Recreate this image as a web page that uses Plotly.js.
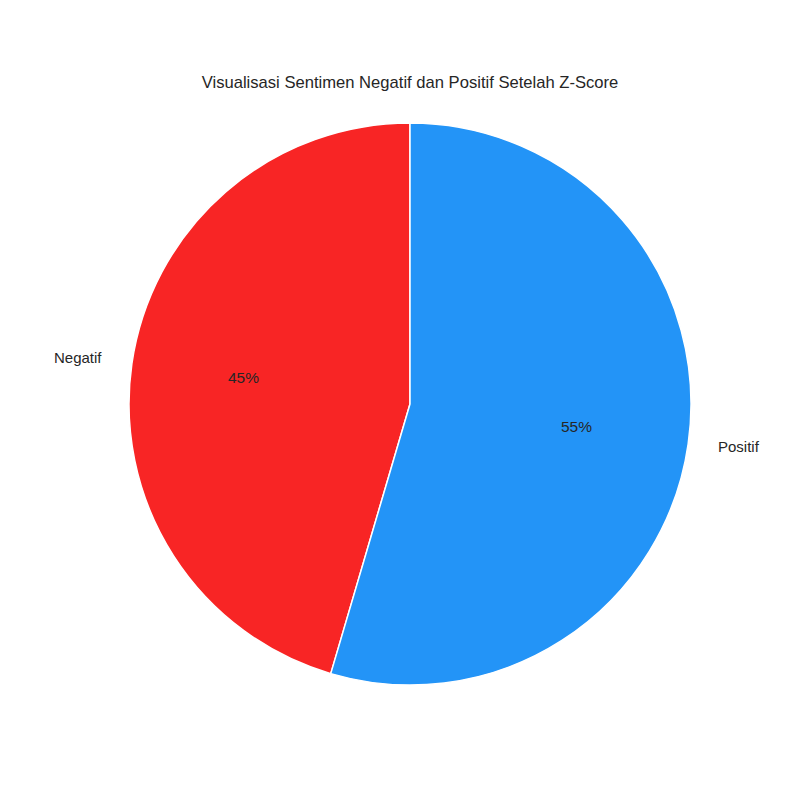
<!DOCTYPE html>
<html>
<head>
<meta charset="utf-8">
<script src="https://cdn.plot.ly/plotly-3.0.1.min.js"></script>
<style>html,body{margin:0;padding:0;background:#fff;}</style>
</head>
<body>
<div id="chart" style="width:800px;height:800px;"></div>
<script>
const labels = ["Negatif", "Positif"];
const values = [45.45, 54.55];
const colors = ["#F82525", "#2394F7"];
const chartTitle = "Visualisasi Sentimen Negatif dan Positif Setelah Z-Score";

const FONT = "Liberation Sans, Arial, sans-serif";
const TXT = "#262626";

const total = values.reduce((a, b) => a + b, 0);
const annotations = [];
let cum = 0;
values.forEach((v, i) => {
  const f = v / total;
  const theta = 2 * Math.PI * (cum + f / 2);
  cum += f;
  const dx = -Math.sin(theta), dy = Math.cos(theta);
  annotations.push({
    xref: "paper", yref: "paper",
    x: 0.5 + 0.5 * 1.1 * dx, y: 0.5 + 0.5 * 1.1 * dy,
    text: labels[i], showarrow: false,
    xanchor: dx < 0 ? "right" : "left", yanchor: "middle", yshift: 2,
    font: {family: FONT, size: 15, color: TXT}
  });
  annotations.push({
    xref: "paper", yref: "paper",
    x: 0.5 + 0.5 * 0.6 * dx, y: 0.5 + 0.5 * 0.6 * dy,
    text: Math.round(f * 100) + "%", showarrow: false,
    xanchor: "center", yanchor: "middle", yshift: 2,
    font: {family: FONT, size: 15.5, color: TXT}
  });
});

// Plotly places the first slice clockwise from 12 o'clock; rotate so the
// first slice sits counterclockwise from the top, as in the reference.
const firstAngle = 360 * values[0] / total;

const data = [{
  type: "pie",
  labels: labels,
  values: values,
  sort: false,
  direction: "clockwise",
  rotation: -firstAngle,
  marker: {colors: colors, line: {color: "#ffffff", width: 1.5}},
  textinfo: "none",
  hoverinfo: "label+percent",
  showlegend: false,
  domain: {x: [0, 1], y: [0, 1]}
}];

const layout = {
  width: 800, height: 800,
  margin: {l: 129, r: 109, t: 123, b: 115},
  paper_bgcolor: "#ffffff",
  plot_bgcolor: "#ffffff",
  showlegend: false,
  title: {
    text: chartTitle,
    font: {family: FONT, size: 16.6, color: TXT},
    xref: "paper", x: 0.5, xanchor: "center",
    yref: "container", y: 1 - 82 / 800, yanchor: "middle"
  },
  annotations: annotations
};

Plotly.newPlot("chart", data, layout, {displayModeBar: false, staticPlot: true});
</script>
</body>
</html>
